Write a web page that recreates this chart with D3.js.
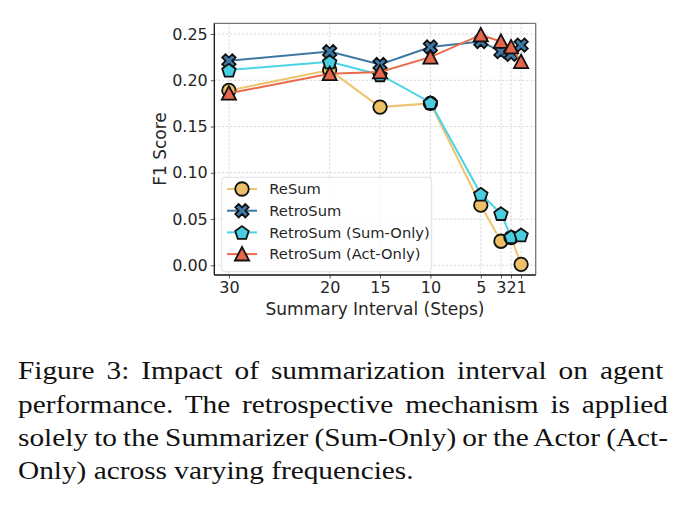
<!DOCTYPE html>
<html>
<head>
<meta charset="utf-8">
<script src="https://cdn.jsdelivr.net/npm/d3@7"></script>
<style>
  body { margin: 0; background: #fff; }
  svg { display: block; }
  text { font-family: "DejaVu Sans", sans-serif; fill: #262626; }
  .caption { font-family: "Liberation Serif", "Times New Roman", serif; fill: #111; }
</style>
</head>
<body>
<div id="chart"></div>
<script>
// data
var intervals = [30, 20, 15, 10, 5, 3, 2, 1]
var resum    = [0.189, 0.211, 0.171, 0.175, 0.065, 0.026, 0.030, 0.001]
var retrosum = [0.221, 0.231, 0.217, 0.236, 0.242, 0.231, 0.228, 0.238]
var sumOnly  = [0.211, 0.220, 0.206, 0.176, 0.077, 0.056, 0.031, 0.033]
var actOnly  = [0.186, 0.207, 0.209, 0.225, 0.249, 0.242, 0.236, 0.220]
var seriesNames = ["ReSum", "RetroSum", "RetroSum (Sum-Only)", "RetroSum (Act-Only)"]
var xTicks = [30, 20, 15, 10, 5, 3, 2, 1]
var yTicks = [0, 0.05, 0.10, 0.15, 0.20, 0.25]
var captionLines = [
    "Figure 3:  Impact of summarization interval on agent",
    "performance. The retrospective mechanism is applied",
    "solely to the Summarizer (Sum-Only) or the Actor (Act-",
    "Only) across varying frequencies."
]

var W = 691, H = 509
var pl = 214.3, pr = 535.7, pt = 23.3, pb = 275   // plot box

var svg = d3.select("#chart").append("svg")
    .attr("width", W)
    .attr("height", H)
svg.append("rect").attr("width", W).attr("height", H).attr("fill", "#fff")

var x = d3.scaleLinear().domain([31.45, -0.45]).range([pl, pr])
var y = d3.scaleLinear().domain([-0.0105, 0.2616]).range([pb, pt])

var styles = [
    { line: "#efc46e", fill: "#ecc067", shape: "circle" },
    { line: "#3d78a3", fill: "#3d79a6", shape: "x" },
    { line: "#4dd3e6", fill: "#49cde0", shape: "pentagon" },
    { line: "#ea6a4a", fill: "#e5664a", shape: "triangle" }
]
var allSeries = [resum, retrosum, sumOnly, actOnly]

// grid
var grid = svg.append("g")
grid.selectAll(".gx").data(xTicks).enter().append("line")
    .attr("x1", d => x(d)).attr("x2", d => x(d))
    .attr("y1", pt).attr("y2", pb)
    .attr("stroke", "#c8c8c8").attr("stroke-width", 0.8).attr("stroke-dasharray", "2,2")
grid.selectAll(".gy").data(yTicks).enter().append("line")
    .attr("x1", pl).attr("x2", pr)
    .attr("y1", d => y(d)).attr("y2", d => y(d))
    .attr("stroke", "#c8c8c8").attr("stroke-width", 0.8).attr("stroke-dasharray", "2,2")

// axes
var xAxis = d3.axisBottom(x).tickValues(xTicks).tickSize(3.5).tickPadding(3)
var yAxis = d3.axisLeft(y).tickValues(yTicks).tickFormat(d3.format(".2f")).tickSize(3.5).tickPadding(3)
var gx = svg.append("g").attr("transform", "translate(0," + pb + ")").call(xAxis)
var gy = svg.append("g").attr("transform", "translate(" + pl + ",0)").call(yAxis)
gx.select(".domain").remove()
gy.select(".domain").remove()
svg.selectAll(".tick line").attr("stroke", "#333").attr("stroke-width", 0.8)
svg.selectAll(".tick text").attr("font-size", 16).attr("fill", "#262626")
    .style("font-family", "DejaVu Sans")

// marker shapes
function markerPath(shape, s) {
    var r = s / 2
    if (shape == "circle") {
        return d3.symbol(d3.symbolCircle, Math.PI * r * r)()
    }
    if (shape == "triangle") {
        return "M0," + (-r * 1.05) + "L" + (r * 1.05) + "," + (r * 0.95) + "L" + (-r * 1.05) + "," + (r * 0.95) + "Z"
    }
    if (shape == "pentagon") {
        var pts = d3.range(5).map(function (i) {
            var a = -Math.PI / 2 + i * 2 * Math.PI / 5
            return [r * 1.05 * Math.cos(a), r * 1.05 * Math.sin(a) + 0.8]
        })
        return "M" + pts.join("L") + "Z"
    }
    // filled X
    var base = [[-1, -3], [1, -3], [1, -1], [3, -1], [3, 1], [1, 1], [1, 3], [-1, 3], [-1, 1], [-3, 1], [-3, -1], [-1, -1]]
    var k = r / 3 * 1.05
    var c = Math.SQRT1_2
    var pts2 = base.map(function (p) {
        return [(p[0] * c - p[1] * c) * k, (p[0] * c + p[1] * c) * k]
    })
    return "M" + pts2.join("L") + "Z"
}

var markerSize = 13.5
var line = d3.line().x(d => x(d[0])).y(d => y(d[1]))

allSeries.forEach(function (vals, si) {
    var pts = intervals.map((d, i) => [d, vals[i]])
    var g = svg.append("g")
    g.append("path").attr("d", line(pts))
        .attr("fill", "none").attr("stroke", styles[si].line).attr("stroke-width", 2)
    g.selectAll("path.m").data(pts).enter().append("path")
        .attr("class", "m")
        .attr("transform", d => "translate(" + x(d[0]) + "," + y(d[1]) + ")")
        .attr("d", markerPath(styles[si].shape, markerSize))
        .attr("fill", styles[si].fill).attr("stroke", "#111").attr("stroke-width", 1.8)
        .attr("stroke-linejoin", "miter")
})

// spines
svg.append("line").attr("x1", pl).attr("x2", pr).attr("y1", pt).attr("y2", pt)
    .attr("stroke", "#777").attr("stroke-width", 1.3)
svg.append("line").attr("x1", pr).attr("x2", pr).attr("y1", pt).attr("y2", pb)
    .attr("stroke", "#777").attr("stroke-width", 1.3)
svg.append("line").attr("x1", pl).attr("x2", pr).attr("y1", pb).attr("y2", pb)
    .attr("stroke", "#111").attr("stroke-width", 1.3)
svg.append("line").attr("x1", pl).attr("x2", pl).attr("y1", pt).attr("y2", pb)
    .attr("stroke", "#111").attr("stroke-width", 1.3)

// legend
var leg = svg.append("g")
leg.append("rect").attr("x", 221.7).attr("y", 177.3).attr("width", 210).attr("height", 94.4)
    .attr("rx", 3).attr("fill", "#fff").attr("fill-opacity", 0.8)
    .attr("stroke", "#e0e0e0").attr("stroke-width", 1)
seriesNames.forEach(function (name, i) {
    var ly = 189 + i * 21.7
    leg.append("line").attr("x1", 227).attr("x2", 257).attr("y1", ly).attr("y2", ly)
        .attr("stroke", styles[i].line).attr("stroke-width", 2)
    leg.append("path").attr("transform", "translate(242," + ly + ")")
        .attr("d", markerPath(styles[i].shape, markerSize))
        .attr("fill", styles[i].fill).attr("stroke", "#111").attr("stroke-width", 1.8)
    leg.append("text").attr("x", 269.3).attr("y", ly + 5.3)
        .attr("font-size", 14.7).text(name)
})

// axis labels
svg.append("text").attr("x", (pl + pr) / 2).attr("y", 315)
    .attr("text-anchor", "middle").attr("font-size", 17)
    .text("Summary Interval (Steps)")
svg.append("text").attr("transform", "translate(166,149) rotate(-90)")
    .attr("text-anchor", "middle").attr("font-size", 17)
    .text("F1 Score")

// caption, justified like the paper (the scan is a bit wider than tall)
var sx = 1.15
var capW = 650 / sx
var cap = svg.append("g").attr("transform", "scale(" + sx + ",1)")
captionLines.forEach(function (t, i) {
    var tx = cap.append("text").attr("class", "caption")
        .attr("x", 18 / sx).attr("y", 379.5 + i * 33.2)
        .attr("font-size", 25.5).text(t)
    if (i < captionLines.length - 1) {
        var w = tx.node().getComputedTextLength()
        var n = t.split(" ").length - 1
        tx.attr("word-spacing", (capW - w) / n)
    }
})
</script>
</body>
</html>
